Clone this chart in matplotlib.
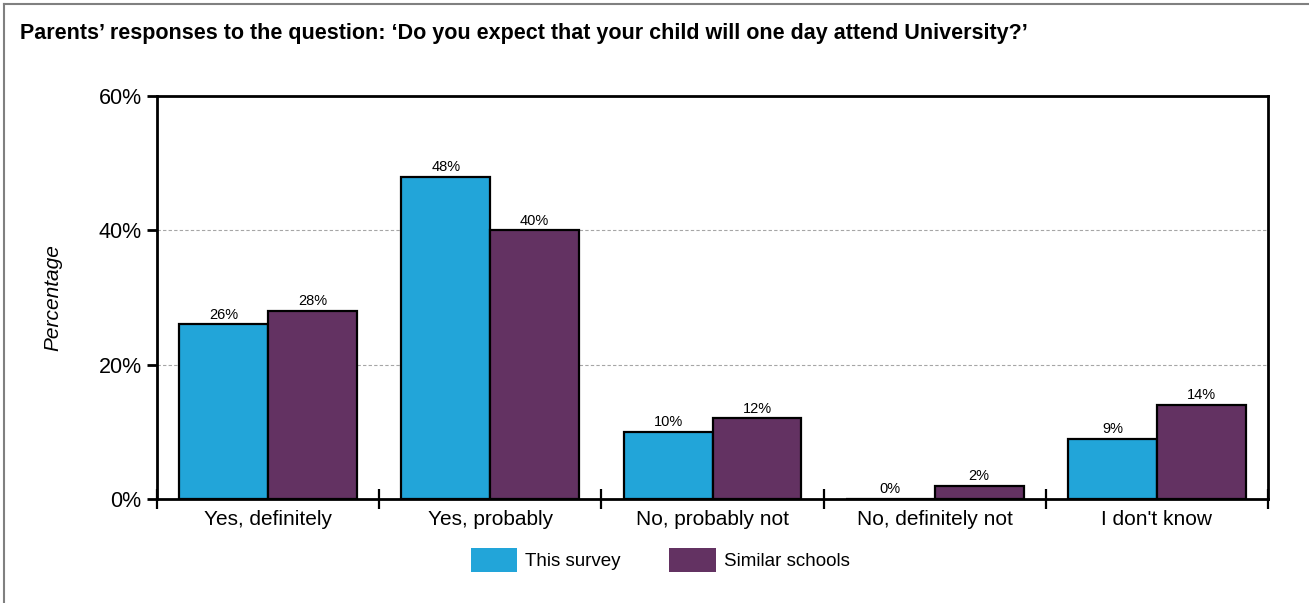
import matplotlib
matplotlib.use("Agg")
import matplotlib.pyplot as plt
from matplotlib.lines import Line2D
from matplotlib.patches import Patch
from matplotlib.ticker import FixedLocator, FuncFormatter
import numpy as np

plt.rcParams['font.family'] = ['Liberation Sans', 'DejaVu Sans']

categories = ["Yes, definitely", "Yes, probably", "No, probably not",
              "No, definitely not", "I don't know"]
this_survey = [26, 48, 10, 0, 9]
similar_schools = [28, 40, 12, 2, 14]
series_names = ["This survey", "Similar schools"]
y_ticks = [0, 20, 40, 60]

blue = "#22a5d9"
purple = "#633262"

fig = plt.figure(figsize=(13.09, 6.03), dpi=100)
ax = fig.add_axes([157 / 1309, 1 - 499 / 603, (1268 - 157) / 1309, (499 - 96) / 603])

x = np.arange(len(categories))
w = 0.4
ax.bar(x - w / 2, this_survey, w, color=blue, edgecolor="black", linewidth=1.6, zorder=3)
ax.bar(x + w / 2, similar_schools, w, color=purple, edgecolor="black", linewidth=1.6, zorder=3)

for xi, v in zip(x, this_survey):
    ax.text(xi - w / 2, v + 0.4, f"{v}%", ha="center", va="bottom", fontsize=10.5, zorder=4)
for xi, v in zip(x, similar_schools):
    ax.text(xi + w / 2, v + 0.4, f"{v}%", ha="center", va="bottom", fontsize=10.5, zorder=4)

ax.set_xlim(-0.5, len(categories) - 0.5)
ax.set_ylim(0, 60)

ax.yaxis.set_major_locator(FixedLocator(y_ticks))
ax.yaxis.set_major_formatter(FuncFormatter(lambda v, p: f"{v:.0f}%"))
ax.tick_params(axis="y", length=7, width=2, direction="out", labelsize=15.5, pad=4)

ax.set_xticks(x)
ax.set_xticklabels(categories, fontsize=15)
ax.tick_params(axis="x", which="major", length=0, pad=8)
ax.set_xticks(np.arange(len(categories) + 1) - 0.5, minor=True)
ax.tick_params(axis="x", which="minor", length=14, width=1.6, direction="inout")

ax.grid(axis="y", linestyle=(0, (3, 2)), color="#a6a6a6", linewidth=0.8, zorder=0)

for s in ax.spines.values():
    s.set_linewidth(2)
    s.set_color("black")

ax.set_ylabel("Percentage", fontsize=15, style="italic", labelpad=26)

fig.text(20 / 1309, 1 - 34 / 603, "Parents\u2019 responses to the question: \u2018Do you expect that your child will one day attend University?\u2019",
         fontsize=15.5, fontweight="bold", va="center", ha="left")

handles = [Patch(facecolor=blue, edgecolor="none"), Patch(facecolor=purple, edgecolor="none")]
fig.legend(handles, series_names, loc="center", bbox_to_anchor=(660 / 1309, 1 - 560 / 603),
           ncol=2, frameon=False, fontsize=13.5, handlelength=2.5, handleheight=1.6,
           handletextpad=0.4, columnspacing=2.6)

# outer frame (top and left edges)
fig.add_artist(Line2D([4 / 1309, 1], [1 - 4 / 603, 1 - 4 / 603], color="#808080", linewidth=1.5,
                      transform=fig.transFigure))
fig.add_artist(Line2D([4 / 1309, 4 / 1309], [0, 1 - 4 / 603], color="#808080", linewidth=1.5,
                      transform=fig.transFigure))

fig.savefig("out.png", dpi=100)
